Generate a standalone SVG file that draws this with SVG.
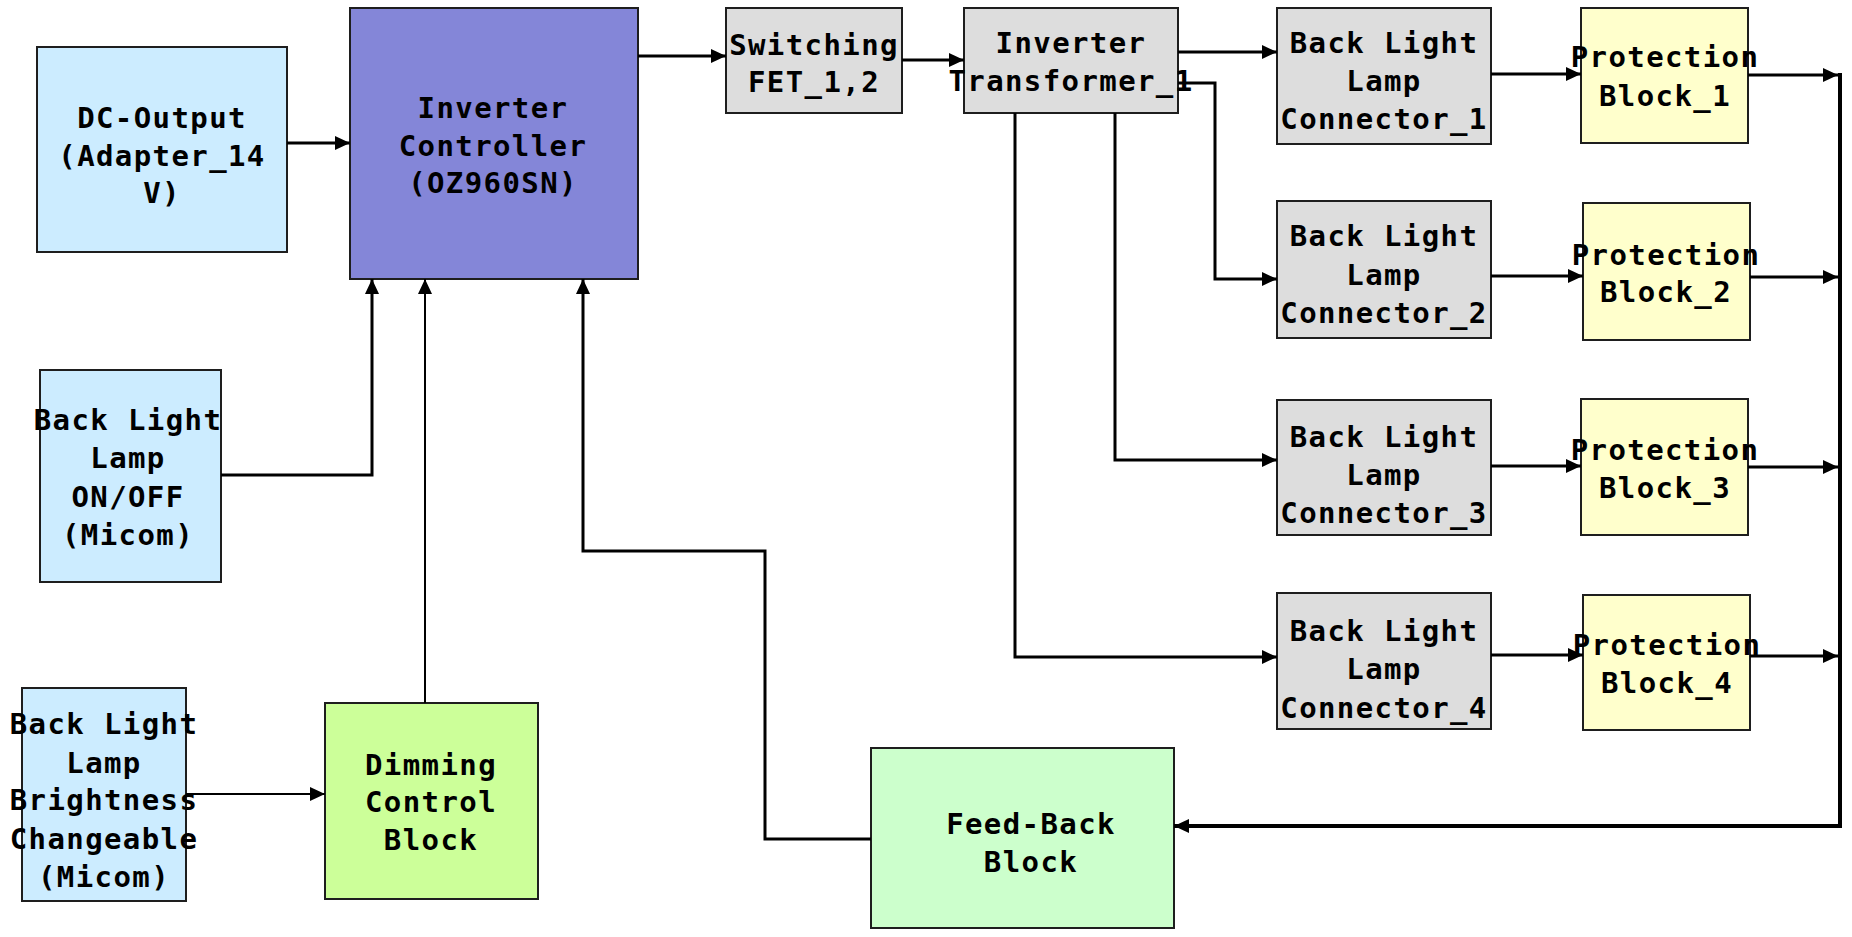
<svg xmlns="http://www.w3.org/2000/svg" width="1852" height="937" viewBox="0 0 1852 937">
<style>
.box{stroke:#1e1e1e;stroke-width:2}
.blue{fill:#CCECFF}.ctrl{fill:#8486D8}.gray{fill:#DDDDDD}.yel{fill:#FFFFCC}.lime{fill:#CCFF99}.mint{fill:#CCFFCC}
text{font-family:"DejaVu Sans Mono","Liberation Mono",monospace;font-weight:bold;font-size:29px;letter-spacing:1.4px;fill:#000;text-anchor:middle}
.c{fill:none;stroke:#000;stroke-width:3}
.thin{stroke-width:2}
.bus{stroke-width:4}
</style>
<defs>
<marker id="ah" markerWidth="15" markerHeight="14" refX="15" refY="7" orient="auto" markerUnits="userSpaceOnUse"><path d="M0,0 L15,7 L0,14 z" fill="#000"/></marker>
</defs>
<rect width="1852" height="937" fill="#fff"/>
<g id="dc-output"><rect class="box blue" x="37" y="47" width="250" height="205"/>
<text x="162" y="128">DC-Output</text><text x="162" y="166">(Adapter_14</text><text x="162" y="203">V)</text></g>
<g id="inverter-controller"><rect class="box ctrl" x="350" y="8" width="288" height="271"/>
<text x="493" y="118">Inverter</text><text x="493" y="156">Controller</text><text x="493" y="193">(OZ960SN)</text></g>
<g id="switching-fet"><rect class="box gray" x="726" y="8" width="176" height="105"/>
<text x="814" y="55">Switching</text><text x="814" y="92">FET_1,2</text></g>
<g id="inverter-transformer"><rect class="box gray" x="964" y="8" width="214" height="105"/>
<text x="1071" y="53">Inverter</text><text x="1071" y="91">Transformer_1</text></g>
<g id="connector-1"><rect class="box gray" x="1277" y="8" width="214" height="136"/>
<text x="1384" y="53">Back Light</text><text x="1384" y="91">Lamp</text><text x="1384" y="129">Connector_1</text></g>
<g id="connector-2"><rect class="box gray" x="1277" y="201" width="214" height="137"/>
<text x="1384" y="246">Back Light</text><text x="1384" y="285">Lamp</text><text x="1384" y="323">Connector_2</text></g>
<g id="connector-3"><rect class="box gray" x="1277" y="400" width="214" height="135"/>
<text x="1384" y="447">Back Light</text><text x="1384" y="485">Lamp</text><text x="1384" y="523">Connector_3</text></g>
<g id="connector-4"><rect class="box gray" x="1277" y="593" width="214" height="136"/>
<text x="1384" y="641">Back Light</text><text x="1384" y="679">Lamp</text><text x="1384" y="718">Connector_4</text></g>
<g id="protection-1"><rect class="box yel" x="1581" y="8" width="167" height="135"/>
<text x="1665" y="67">Protection</text><text x="1665" y="106">Block_1</text></g>
<g id="protection-2"><rect class="box yel" x="1583" y="203" width="167" height="137"/>
<text x="1666" y="265">Protection</text><text x="1666" y="302">Block_2</text></g>
<g id="protection-3"><rect class="box yel" x="1581" y="399" width="167" height="136"/>
<text x="1665" y="460">Protection</text><text x="1665" y="498">Block_3</text></g>
<g id="protection-4"><rect class="box yel" x="1583" y="595" width="167" height="135"/>
<text x="1667" y="655">Protection</text><text x="1667" y="693">Block_4</text></g>
<g id="onoff"><rect class="box blue" x="40" y="370" width="181" height="212"/>
<text x="128" y="430">Back Light</text><text x="128" y="468">Lamp</text><text x="128" y="507">ON/OFF</text><text x="128" y="545">(Micom)</text></g>
<g id="brightness"><rect class="box blue" x="22" y="688" width="164" height="213"/>
<text x="104" y="734">Back Light</text><text x="104" y="773">Lamp</text><text x="104" y="810">Brightness</text><text x="104" y="849">Changeable</text><text x="104" y="887">(Micom)</text></g>
<g id="dimming"><rect class="box lime" x="325" y="703" width="213" height="196"/>
<text x="431" y="775">Dimming</text><text x="431" y="812">Control</text><text x="431" y="850">Block</text></g>
<g id="feedback"><rect class="box mint" x="871" y="748" width="303" height="180"/>
<text x="1031" y="834">Feed-Back</text><text x="1031" y="872">Block</text></g>
<g id="connectors">
<path class="c" d="M287,143 H350" marker-end="url(#ah)"/>
<path class="c" d="M638,56 H726" marker-end="url(#ah)"/>
<path class="c" d="M902,60 H964" marker-end="url(#ah)"/>
<path class="c" d="M1178,52 H1277" marker-end="url(#ah)"/>
<path class="c" d="M1178,83 H1215 V279 H1277" marker-end="url(#ah)"/>
<path class="c" d="M1115,113 V460 H1277" marker-end="url(#ah)"/>
<path class="c" d="M1015,113 V657 H1277" marker-end="url(#ah)"/>
<path class="c" d="M1491,74 H1581" marker-end="url(#ah)"/>
<path class="c" d="M1491,276 H1583" marker-end="url(#ah)"/>
<path class="c" d="M1491,466 H1581" marker-end="url(#ah)"/>
<path class="c" d="M1491,655 H1583" marker-end="url(#ah)"/>
<path class="c" d="M1748,75 H1838" marker-end="url(#ah)"/>
<path class="c" d="M1750,277 H1838" marker-end="url(#ah)"/>
<path class="c" d="M1748,467 H1838" marker-end="url(#ah)"/>
<path class="c" d="M1750,656 H1838" marker-end="url(#ah)"/>
<path class="c bus" d="M1840,73 V826 H1174" marker-end="url(#ah)"/>
<path class="c" d="M871,839 H765 V551 H583 V279" marker-end="url(#ah)"/>
<path class="c" d="M221,475 H372 V279" marker-end="url(#ah)"/>
<path class="c thin" d="M425,703 V279" marker-end="url(#ah)"/>
<path class="c thin" d="M186,794 H325" marker-end="url(#ah)"/>
</g>
</svg>
